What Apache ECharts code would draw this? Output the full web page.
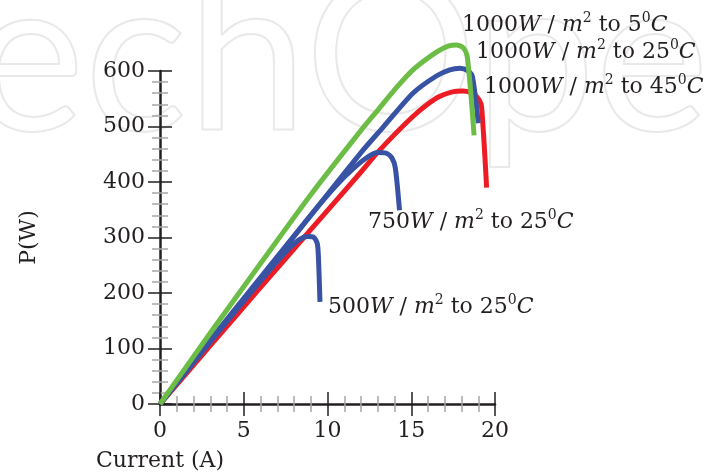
<!DOCTYPE html>
<html lang="en">
<head>
<meta charset="UTF-8">
<title>PV power curves</title>
<script src="https://cdn.jsdelivr.net/npm/echarts@6/dist/echarts.min.js"></script>
<style>
  html, body { margin: 0; padding: 0; background: #fff; }
  #main { width: 710px; height: 473px; }
</style>
</head>
<body>
<div id="main"></div>
<script>
// current (A) / power (W) pairs
var g1000_5 = [[0,0],[3,128],[6,253],[9,377],[12,493],[13.1,533],[14,566],[15.1,602],[16.5,634],[17.2,645],[17.7,647],[18.1,642],[18.35,625],[18.75,484]];
var b1000_25 = [[0,0],[3,115],[6,228],[9,340],[12,453],[13.3,498],[15.1,560],[16.5,591],[17.3,602],[17.9,605],[18.35,601],[18.65,590],[19.0,506]];
var r1000_45 = [[0,0],[3,105],[6,210],[9,314],[12,418],[13.1,457],[15.1,518],[16.5,551],[17.4,562],[18.1,564],[18.7,559],[19.05,548],[19.2,535],[19.5,390]];
var b750_25 = [[0,0],[3,114],[6,226],[9,340],[10.5,393],[11.5,423],[12.4,445],[13.0,453],[13.5,452],[13.85,443],[14.05,425],[14.3,349]];
var b500_25 = [[0,0],[3,112],[6,222],[7.5,274],[8.3,296],[8.8,302],[9.15,301],[9.38,290],[9.45,270],[9.55,184]];

var xTicks = [0, 5, 10, 15, 20];
var yTicks = [0, 100, 200, 300, 400, 500, 600];

// caption of each curve: left edge in data units, irradiance, temperature
var captions = [
  { at: [18.03, 682], w: '1000', t: '5' },
  { at: [18.87, 634], w: '1000', t: '25' },
  { at: [19.34, 571], w: '1000', t: '45' },
  { at: [12.42, 328], w: '750', t: '25' },
  { at: [10.03, 175], w: '500', t: '25' }
];

var serif = 'DejaVu Serif';
var ink = '#231f20';

var rich = {
  n: { fontFamily: serif, fontSize: 22, fill: ink, lineHeight: 28 },
  i: { fontFamily: serif, fontSize: 22, fill: ink, fontStyle: 'italic', lineHeight: 28 },
  s: { fontFamily: serif, fontSize: 14, fill: ink, lineHeight: 15, verticalAlign: 'top' }
};

function captionText(w, t) {
  return '{n|' + w + '}{i|W}{n| / }{i|m}{s|2}{n| to ' + t + '}{s|0}{i|C}';
}

function curve(name, data, color, z) {
  return {
    name: name,
    type: 'line',
    data: data,
    clip: false,
    z: z,
    smooth: 0.25,
    showSymbol: false,
    lineStyle: { color: color, width: 5, join: 'round', cap: 'butt' },
    emphasis: { disabled: true }
  };
}

var chart = echarts.init(document.getElementById('main'));

var tickBits = function (dir) {
  return {
    axisTick: { show: true, inside: dir, length: 12, lineStyle: { color: ink, width: 1.5 } },
    minorTick: { show: true, splitNumber: 5, length: 8, lineStyle: { color: '#a7a7a7', width: 1.5 } }
  };
};

var watermark = {
  type: 'text',
  left: -30,
  top: -48,
  z: -10,
  silent: true,
  style: {
    text: 'echOpen',
    fontFamily: 'Lato',
    fontSize: 215,
    fill: 'rgba(0,0,0,0)',
    stroke: '#e9e9e9',
    lineWidth: 2
  }
};

chart.setOption({
  animation: false,
  backgroundColor: '#fff',
  graphic: [watermark],
  grid: { left: 160, right: 215, top: 71, bottom: 69 },
  xAxis: [
    Object.assign({
      type: 'value', min: 0, max: 20, interval: 5, position: 'bottom',
      axisLine: { show: true, onZero: false, lineStyle: { color: ink, width: 2.5 } },
      axisLabel: { margin: 16, fontFamily: serif, fontSize: 22, color: ink,
        formatter: function (v) { return xTicks.indexOf(v) >= 0 ? String(v) : ''; } },
      splitLine: { show: false },
      name: 'Current (A)',
      nameLocation: 'start',
      nameGap: 0,
      nameTextStyle: { fontFamily: serif, fontSize: 22, color: ink, align: 'center', verticalAlign: 'top', padding: [46, 0, 0, 0] }
    }, tickBits(false)),
    Object.assign({
      type: 'value', min: 0, max: 20, interval: 5, position: 'bottom', offset: 0,
      axisLine: { show: false },
      axisLabel: { show: false },
      splitLine: { show: false }
    }, tickBits(true))
  ],
  yAxis: [
    Object.assign({
      type: 'value', min: 0, max: 600, interval: 100, position: 'left',
      axisLine: { show: true, onZero: false, lineStyle: { color: ink, width: 2.5 } },
      axisLabel: { margin: 15, fontFamily: serif, fontSize: 22, color: ink,
        formatter: function (v) { return yTicks.indexOf(v) >= 0 ? String(v) : ''; } },
      splitLine: { show: false },
      name: 'P(W)',
      nameLocation: 'middle',
      nameGap: 120,
      nameRotate: 90,
      nameTextStyle: { fontFamily: serif, fontSize: 22, color: ink }
    }, tickBits(false)),
    Object.assign({
      type: 'value', min: 0, max: 600, interval: 100, position: 'left', offset: 0,
      axisLine: { show: false },
      axisLabel: { show: false },
      splitLine: { show: false }
    }, tickBits(true))
  ],
  series: [
    curve('1000W/m2 45C', r1000_45, '#ed1c24', 2),
    curve('1000W/m2 25C', b1000_25, '#3953a4', 3),
    curve('750W/m2 25C', b750_25, '#3953a4', 4),
    curve('500W/m2 25C', b500_25, '#3953a4', 5),
    curve('1000W/m2 5C', g1000_5, '#6cbd45', 6)
  ]
});

// captions go above the top of the axis, so place them through the axes' own scales
var labels = captions.map(function (c) {
  var p = chart.convertToPixel({ xAxisIndex: 0, yAxisIndex: 0 }, c.at);
  return {
    type: 'text',
    x: p[0],
    y: p[1],
    z: 20,
    silent: true,
    style: {
      text: captionText(c.w, c.t),
      rich: rich,
      align: 'left',
      verticalAlign: 'middle'
    }
  };
});
chart.setOption({ graphic: [watermark].concat(labels) });
</script>
</body>
</html>
